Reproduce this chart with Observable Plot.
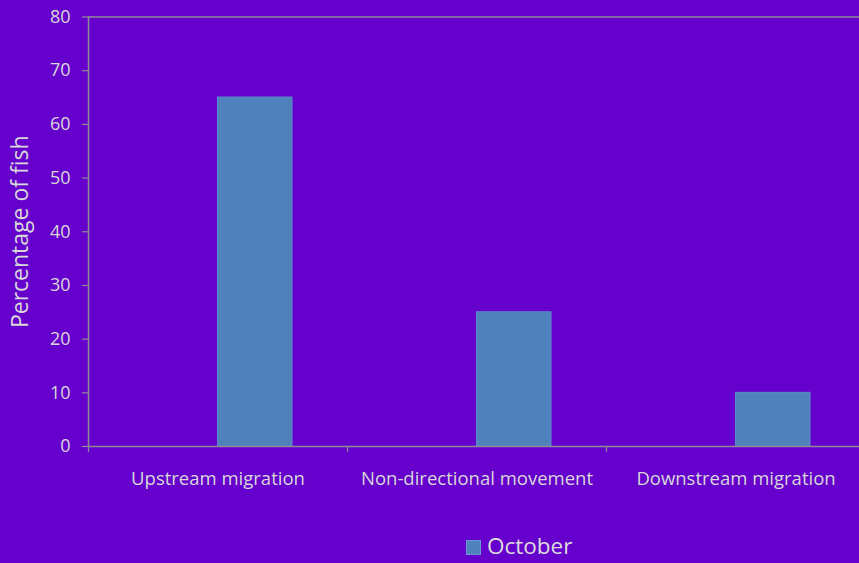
<!DOCTYPE html>
<html>
<head>
<meta charset="utf-8">
<script src="https://cdn.jsdelivr.net/npm/d3@7"></script>
<script src="https://cdn.jsdelivr.net/npm/@observablehq/plot@0.6"></script>
<style>
  html, body { margin: 0; padding: 0; background: #6600CC; width: 859px; height: 563px; overflow: hidden; }
  #chart svg { display: block; background: #6600CC; }
  #legend { position: relative; height: 48px; font-family: "Open Sans", Lato, sans-serif; font-size: 22.5px; color: #dcdcdc; }
  #legend .sw { position: absolute; left: 466px; top: 25px; width: 15px; height: 15px; background: #4F81BD; border: 1px solid #6a97cf; box-sizing: border-box; }
  #legend .lb { position: absolute; left: 487px; top: 18px; line-height: 26px; }
</style>
</head>
<body>
<div id="chart"></div>
<div id="legend"><div class="sw"></div><div class="lb">October</div></div>
<script>
const categories = ["Upstream migration", "Non-directional movement", "Downstream migration"];
const october = [65, 25, 10];
const yTicks = [0, 10, 20, 30, 40, 50, 60, 70, 80];
const seriesName = "October";

const data = categories.map((c, i) => ({category: c, value: october[i], series: seriesName}));

const W = 859, H = 515;
const mL = 88, mR = -6, mT = 16.5, mB = H - 446;
const step = (W - mR - mL) / categories.length;
const barW = 74.5;
const axisColor = "#8c8c96";
const textColor = "#d8d8d8";
const unitsPerPx = 80 / (H - mT - mB);

const chart = Plot.plot({
  width: W,
  height: H,
  marginLeft: mL,
  marginRight: mR,
  marginTop: mT,
  marginBottom: mB,
  style: {background: "#6600CC", color: textColor, fontFamily: "'Open Sans', Lato, sans-serif", fontSize: "18px", overflow: "visible"},
  x: {domain: categories, padding: 0, label: null},
  y: {domain: [0, 80], label: null},
  marks: [
    Plot.barY(data, {x: "category", y: "value", fill: "#4F81BD", stroke: "#5a8ccb", strokeWidth: 1,
      insetLeft: step / 2, insetRight: step / 2 - barW}),
    Plot.ruleY([80], {stroke: axisColor, strokeWidth: 1.5}),
    Plot.ruleY([0], {stroke: axisColor, strokeWidth: 1.5}),
    Plot.ruleX([categories[0]], {x: d => d, dx: -step / 2, y1: 0, y2: 80, stroke: axisColor, strokeWidth: 1.5}),
    Plot.ruleX(categories, {x: d => d, dx: -step / 2, y1: 0, y2: -6 * unitsPerPx, stroke: axisColor, strokeWidth: 1.2}),
    Plot.axisY(yTicks, {tickSize: 6, tickPadding: 12, stroke: axisColor, fill: textColor, fontSize: 18, label: null, strokeWidth: 1.2}),
    Plot.axisX({tickSize: 0, tickPadding: 25, fill: textColor, fontSize: 18.5, label: null}),
    Plot.text(["Percentage of fish"], {frameAnchor: "left", dx: -mL + 20, rotate: -90, fill: textColor, fontSize: 23, textAnchor: "middle"})
  ]
});
document.getElementById("chart").appendChild(chart);
</script>
</body>
</html>
